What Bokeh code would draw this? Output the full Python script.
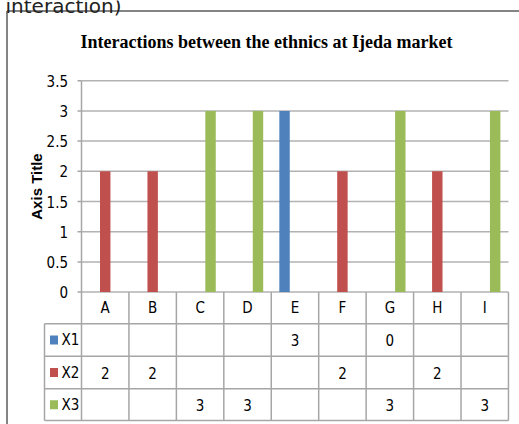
import math
from bokeh.plotting import figure
from bokeh.models import Range1d
from bokeh.core.properties import value
from bokeh.embed import file_html
from bokeh.resources import INLINE

# ---------------- data ----------------
categories = ["A", "B", "C", "D", "E", "F", "G", "H", "I"]
series_names = ["X1", "X2", "X3"]
x1_values = [None, None, None, None, 3, None, 0, None, None]
x2_values = [2, 2, None, None, None, 2, None, 2, None]
x3_values = [None, None, 3, 3, None, None, 3, None, 3]
series_colors = ["#4F81BD", "#C0504D", "#9BBB59"]
y_ticks = [0, 0.5, 1, 1.5, 2, 2.5, 3, 3.5]
y_tick_labels = ["0", "0.5", "1", "1.5", "2", "2.5", "3", "3.5"]
chart_title = "Interactions between the ethnics at Ijeda market"
y_axis_title = "Axis Title"
caption_fragment = "interaction)"

series_values = [x1_values, x2_values, x3_values]

# ---------------- layout (pixels, picture coordinates) ----------------
W, H = 519, 424
OX, OY = 0.0, 0.0
PLOT_LEFT = 81.0
CAT_W = 47.44
ZERO_Y = 291.6
UNIT = 60.4
TABLE_LINES = [323.3, 355.7, 388.3, 420.0]
LEGEND_LEFT = 44.0
BAR_W = 0.22
OFFSETS = [-0.22, 0.0, 0.22]

def dx(px):
    return (px - PLOT_LEFT) / CAT_W

def dy(py):
    return (ZERO_Y - py) / UNIT

n = len(categories)
NUM_FONT = value("DejaVu Sans Condensed")
FS = "15px"
GRID = "#b2b2b2"
TABLE = "#a6a6a6"

p = figure(width=W, height=H, output_backend="svg", toolbar_location=None,
           x_range=Range1d(dx(OX), dx(OX + W)), y_range=Range1d(dy(OY + H), dy(OY)),
           x_axis_location=None, y_axis_location=None, min_border=0,
           outline_line_color=None, background_fill_color="white",
           border_fill_color="white")
p.xgrid.visible = False
p.ygrid.visible = False

# outer chart border (top + left)
p.segment(x0=[dx(6.5), dx(6.5)], y0=[dy(10.5), dy(10.5)],
          x1=[dx(530), dx(6.5)], y1=[dy(10.5), dy(440)],
          line_color="#848484", line_width=2)

# caption fragment at the very top (cropped in the reference as well)
p.text(x=[dx(121)], y=[dy(5.5)], text=[caption_fragment], text_align="right",
       text_baseline="alphabetic", text_font=value("DejaVu Sans"),
       text_font_size="20px", text_color="#222222")

# gridlines and small outward ticks
p.segment(x0=[0] * len(y_ticks), x1=[n] * len(y_ticks), y0=y_ticks, y1=y_ticks,
          line_color=GRID, line_width=1.5)
p.segment(x0=[dx(77)] * len(y_ticks), x1=[0] * len(y_ticks), y0=y_ticks, y1=y_ticks,
          line_color=TABLE, line_width=1.5)

# bars
for vals, off, col in zip(series_values, OFFSETS, series_colors):
    xs = [i + 0.5 + off for i, v in enumerate(vals) if v is not None]
    tops = [v for v in vals if v is not None]
    p.vbar(x=xs, top=tops, bottom=0, width=BAR_W, fill_color=col, line_color=None)

# vertical axis line + category separators through table
table_bottom = dy(TABLE_LINES[-1])
p.segment(x0=[0], x1=[0], y0=[y_ticks[-1]], y1=[table_bottom], line_color=TABLE, line_width=1.5)
p.segment(x0=list(range(1, n + 1)), x1=list(range(1, n + 1)),
          y0=[0] * n, y1=[table_bottom] * n, line_color=TABLE, line_width=1.5)
# table horizontal lines
hy = [dy(v) for v in TABLE_LINES]
p.segment(x0=[dx(LEGEND_LEFT)] * len(hy), x1=[n] * len(hy), y0=hy, y1=hy,
          line_color=TABLE, line_width=1.5)
p.segment(x0=[dx(LEGEND_LEFT)], x1=[dx(LEGEND_LEFT)], y0=[hy[0]], y1=[hy[-1]],
          line_color=TABLE, line_width=1.5)

# category labels
header_y = (0 + hy[0]) / 2
p.text(x=[i + 0.5 for i in range(n)], y=[header_y] * n, text=categories,
       text_align="center", text_baseline="middle", text_font=NUM_FONT,
       text_font_size=FS, text_color="#000000")

# table rows
row_centers = [(hy[k] + hy[k + 1]) / 2 for k in range(3)]
for vals, yc in zip(series_values, row_centers):
    xs = [i + 0.5 for i, v in enumerate(vals) if v is not None]
    ts = [str(v) for v in vals if v is not None]
    p.text(x=xs, y=[yc] * len(xs), text=ts, text_align="center",
           text_baseline="middle", text_font=NUM_FONT, text_font_size=FS,
           text_color="#000000")

# legend keys
p.rect(x=[dx(53.5)] * 3, y=row_centers, width=8, height=9, width_units="screen",
       height_units="screen", fill_color=series_colors, line_color=None)
p.text(x=[dx(61)] * 3, y=row_centers, text=series_names, text_align="left",
       text_baseline="middle", text_font=NUM_FONT, text_font_size=FS,
       text_color="#000000")

# y tick labels
p.text(x=[dx(67.5)] * len(y_ticks), y=y_ticks, text=y_tick_labels, text_align="right",
       text_baseline="middle", text_font=NUM_FONT, text_font_size=FS,
       text_color="#000000")

# y axis title
p.text(x=[dx(36)], y=[dy(186)], text=[y_axis_title], angle=math.pi / 2,
       text_align="center", text_baseline="middle",
       text_font=value("Liberation Sans"), text_font_style="bold",
       text_font_size="15px", text_color="#000000")

# chart title
p.text(x=[dx(266)], y=[dy(41)], text=[chart_title], text_align="center",
       text_baseline="middle", text_font=value("Liberation Serif"),
       text_font_style="bold", text_font_size="18px", text_color="#000000")

open("out.html", "w").write(file_html(p, INLINE))
